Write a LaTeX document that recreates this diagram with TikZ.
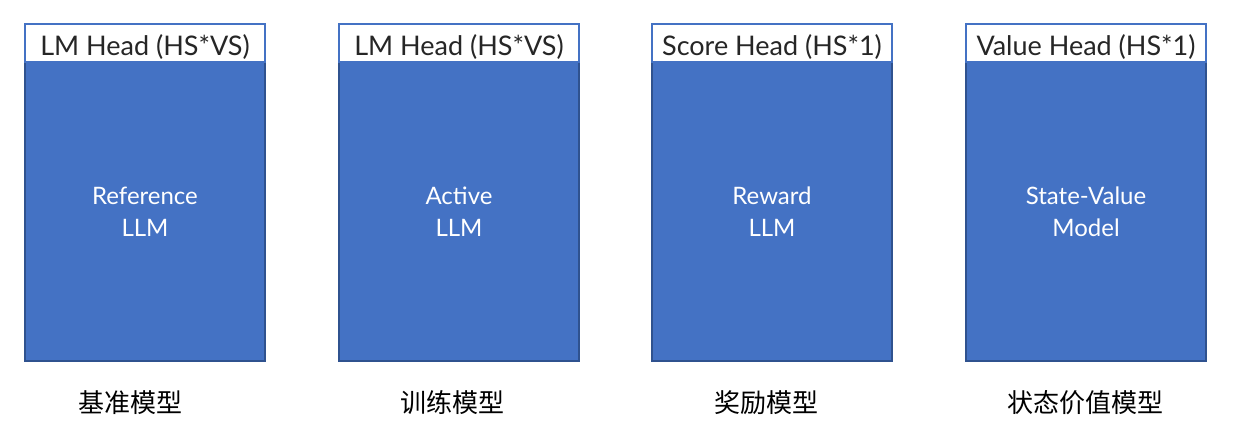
\documentclass[tikz,border=0pt]{standalone}
\usepackage{fontspec}
\setmainfont{Lato}
\newfontfamily\cjk{Noto Sans CJK SC}
\definecolor{bodyblue}{HTML}{4472C4}
\definecolor{edgeblue}{HTML}{2F528F}
\definecolor{headtext}{HTML}{262626}

\begin{document}
\begin{tikzpicture}[
  x=1pt, y=-1pt,
  body/.style={rectangle, fill=bodyblue, draw=edgeblue, line width=1.2pt, minimum width=240pt, minimum height=299pt, inner sep=0pt, text=white, align=center, font=\fontsize{24}{32}\selectfont},
  head/.style={rectangle, fill=white, draw=bodyblue, line width=1.2pt, minimum width=240pt, minimum height=38pt, text height=32pt, text depth=6pt, inner sep=0pt, text=headtext, font=\fontsize{27}{30}\selectfont},
  caption/.style={text=black, font=\cjk\fontsize{26}{30}\selectfont}
]
  \useasboundingbox (0,0) rectangle (1233,422);

  % ==========================================
  % 1. CUERPOS DE LOS MODELOS
  % ==========================================
  \node[body] (ref) at (145,211.5) {Reference\\LLM};
  \node[body] (act) at (459,211.5) {Active\\LLM};
  \node[body] (rew) at (772,211.5) {Reward\\LLM};
  \node[body] (sv)  at (1086,211.5) {State-Value\\Model};

  % ==========================================
  % 2. CABEZAS (encima de cada cuerpo)
  % ==========================================
  \node[head] (refhead) at (145,43) {LM Head (HS*VS)};
  \node[head] (acthead) at (459,43) {LM Head (HS*VS)};
  \node[head] (rewhead) at (772,43) {Score Head (HS*1)};
  \node[head] (svhead)  at (1086,43) {Value Head (HS*1)};

  % ==========================================
  % 3. NOMBRES (debajo)
  % ==========================================
  \node[caption] (refname) at (130,403) {基准模型};
  \node[caption] (actname) at (452,403) {训练模型};
  \node[caption] (rewname) at (766,403) {奖励模型};
  \node[caption] (svname)  at (1085,403) {状态价值模型};

\end{tikzpicture}
\end{document}
